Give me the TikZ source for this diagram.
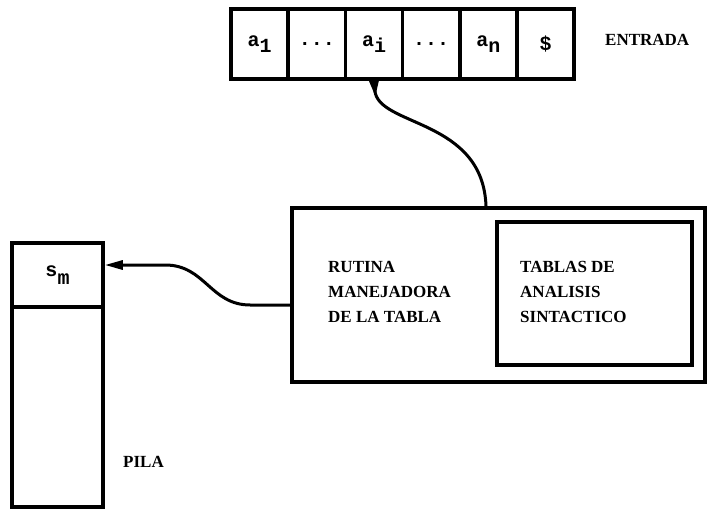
\documentclass[tikz,border=0pt]{standalone}
\usepackage{fontspec}
\setmainfont{Liberation Serif}
\newfontfamily\monof{Liberation Mono}
\usetikzlibrary{arrows.meta,calc}
\tikzset{
  box/.style={draw,line width=3.5pt,inner sep=0pt},
  celltxt/.style={font=\monof\bfseries\fontsize{20}{22}\selectfont},
  cell/.style={box,celltxt,minimum width=57.2pt,minimum height=70pt},
  captxt/.style={font=\bfseries\fontsize{17}{25}\selectfont,inner sep=0pt,align=left},
  conn/.style={line width=3pt},
}
\newcommand{\lowsub}[2][6pt]{\raisebox{-#1}{#2}}
\begin{document}
\begin{tikzpicture}[x=1pt,y=-1pt]
\useasboundingbox (0,0) rectangle (709,517);
% input tape
\node[cell] (c1) at (259.6,44) {a\lowsub{1}};
\node[cell] (c2) at (316.8,44) {...};
\node[cell] (ai) at (374.0,44) {a\lowsub{i}};
\node[cell] (c4) at (431.2,44) {...};
\node[cell] (an) at (488.4,44) {a\lowsub{n}};
\node[cell] (c6) at (545.6,44) {\$};
\node[captxt,anchor=west] (entrada) at (605,40) {ENTRADA};
% main box
\node[box,minimum width=413pt,minimum height=174pt] (main) at (498.5,295) {};
\node[box,minimum width=195pt,minimum height=143pt] (inner) at (594.5,293.5) {};
\node[captxt,anchor=west] (rut) at (328,292) {RUTINA\\MANEJADORA\\DE LA TABLA};
\node[captxt,anchor=west] (tab) at (520,292) {TABLAS DE\\ANALISIS\\SINTACTICO};
% stack
\node[box,celltxt,minimum width=91pt,minimum height=64pt] (sm) at (57.5,275) {s\lowsub[8pt]{m}};
\node[box,minimum width=91pt,minimum height=200pt] (stk) at (57.5,407) {};
\node[captxt,anchor=west] (pila) at (123,462) {PILA};
% connector end points on the borders
\coordinate (mtop) at ($(main.north west)!0.47!(main.north east)$);
\coordinate (mleft) at ($(main.west)+(0,10)$);
\coordinate (smr) at ($(sm.east)+(0,-10)$);
% connectors
\draw[conn,{Triangle[reversed,length=16pt,width=9pt]}-] (ai.south) .. controls +(4,46) and +(-3,-88) .. (mtop);
\draw[conn,-{Triangle[length=18pt,width=9pt]}] (mleft) -- ++(-40,0) .. controls +(-40,0) and +(40,0) .. ++(-85,-40) -- (smr);
\end{tikzpicture}
\end{document}
